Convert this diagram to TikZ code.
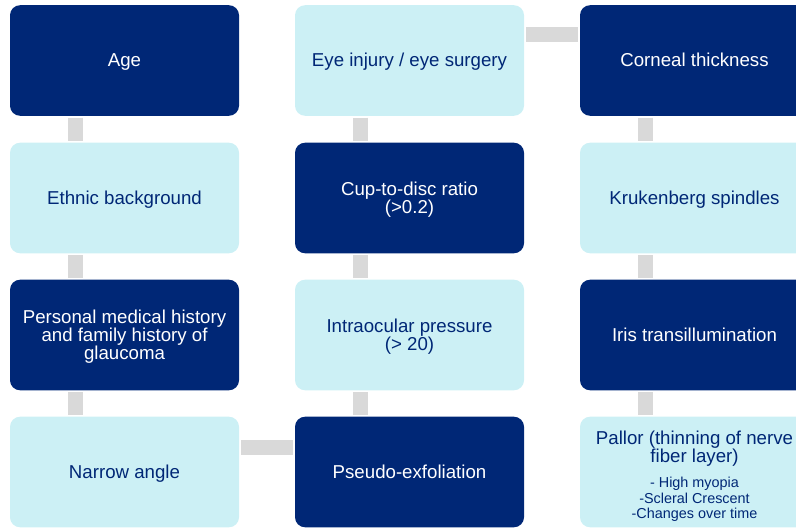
\documentclass[tikz,border=0pt]{standalone}
\usepackage{fontspec}
\setmainfont{Liberation Sans}
\definecolor{navy}{HTML}{002776}
\definecolor{lightc}{HTML}{CCF0F5}
\definecolor{connc}{HTML}{D9D9D9}
\newcommand\topstrut{\rule{0pt}{12.67pt}}
\newcommand\botstrut{\rule[-2.97pt]{0pt}{2.97pt}}
\newcommand\subtxt[1]{{\fontsize{10.8}{11.2}\selectfont #1}}
\begin{document}
\begin{tikzpicture}[x=0.75pt,y=-0.75pt,
  box/.style={rectangle,rounded corners=7.5pt,minimum width=171.75pt,minimum height=82.9pt,
    inner sep=0pt,align=flush center,text width=165pt,font=\fontsize{14}{13.8}\selectfont,
    execute at begin node=\topstrut, execute at end node=\botstrut},
  darkbox/.style={box,fill=navy,text=white},
  lightbox/.style={box,fill=lightc,text=navy},
  conn/.style={draw=connc,line width=11.25pt,line cap=butt}]
\useasboundingbox (0,0) rectangle (796,529);
% column 1
\node[darkbox]  (age)   at (124.5,60.5) {Age};
\node[lightbox] (eth)   at (124.5,198)  {Ethnic background};
\node[darkbox]  (pers)  at (124.5,335)  {Personal medical history\\and family history of\\glaucoma};
\node[lightbox] (narr)  at (124.5,472)  {Narrow angle};
% column 2
\node[lightbox] (eye)   at (409.5,60.5) {Eye injury / eye surgery};
\node[darkbox]  (cup)   at (409.5,198)  {Cup-to-disc ratio\\(>0.2)};
\node[lightbox] (iop)   at (409.5,335)  {Intraocular pressure\\(> 20)};
\node[darkbox]  (pseu)  at (409.5,472)  {Pseudo-exfoliation};
% column 3
\node[darkbox]  (corn)  at (694.5,60.5) {Corneal thickness};
\node[lightbox] (kruk)  at (694.5,198)  {Krukenberg spindles};
\node[darkbox]  (iris)  at (694.5,335)  {Iris transillumination};
\node[lightbox] (pall)  at (694.5,472)  {\rule{0pt}{17.2pt}Pallor (thinning of nerve\\fiber layer)\\[4.95pt]
  \subtxt{- High myopia}\\[-2.2pt]\subtxt{-Scleral Crescent}\\[-2.2pt]\subtxt{-Changes over time}};
% vertical connectors
\foreach \a/\b in {age/eth,eth/pers,pers/narr,eye/cup,cup/iop,iop/pseu,corn/kruk,kruk/iris,iris/pall}{
  \draw[conn] ([xshift=49.1pt,yshift=-1.2pt]\a.south west) -- ([xshift=49.1pt,yshift=1.2pt]\b.north west);
}
% horizontal connectors
\draw[conn] ([xshift=1.5pt,yshift=-22.5pt]eye.north east) -- ([xshift=-1pt,yshift=-22.5pt]corn.north west);
\draw[conn] ([xshift=1.5pt,yshift=-22.9pt]narr.north east) -- ([xshift=-1pt,yshift=-22.9pt]pseu.north west);
\end{tikzpicture}
\end{document}
